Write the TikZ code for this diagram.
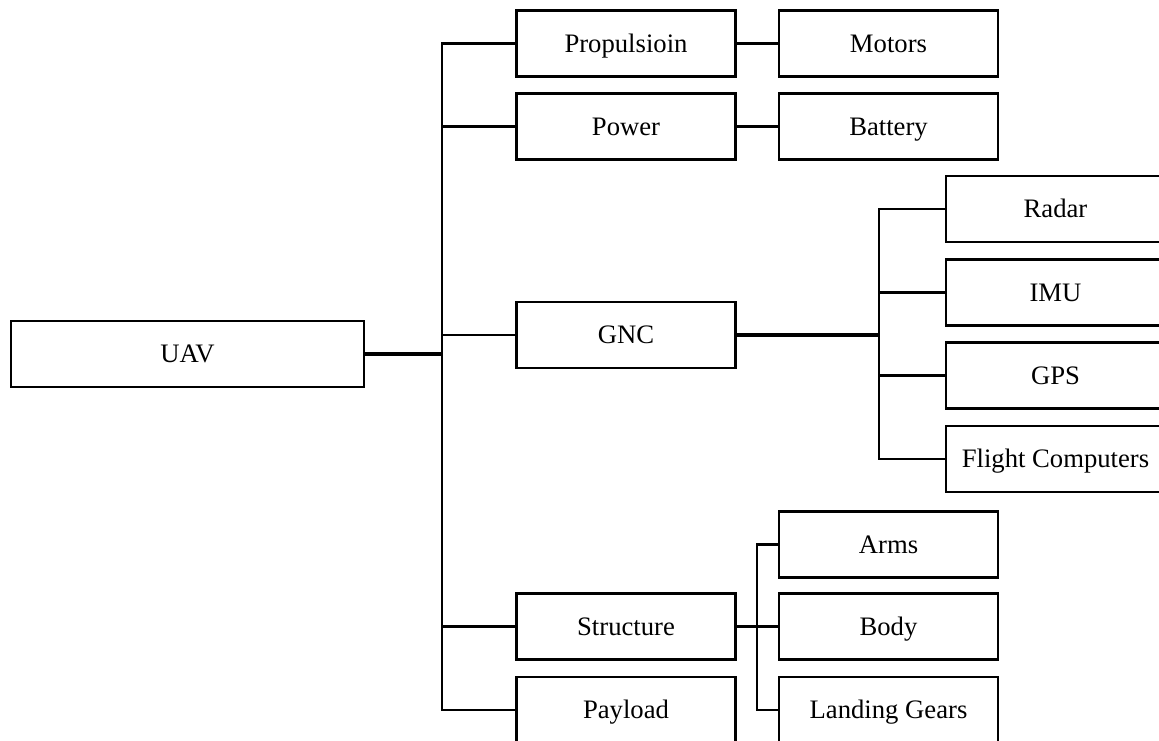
\documentclass[tikz,border=0pt]{standalone}
\usepackage{fontspec}
\setmainfont{Liberation Serif}
\begin{document}
\begin{tikzpicture}[x=0.75pt,y=-0.75pt,
  box/.style={draw=black,line width=2.1pt,fill=white,minimum width=164.25pt,minimum height=49.5pt,inner sep=0pt,text height=15.2pt,text depth=2pt,font=\fontsize{20pt}{24pt}\selectfont},
  conn/.style={draw=black,line width=1.7pt},
  thick conn/.style={draw=black,line width=2.3pt}]
\useasboundingbox (0,0) rectangle (1159,740);
\clip (0,0) rectangle (1159,740);
% nodes
\node[box,minimum width=264.75pt] (uav) at (187.5,354) {UAV};
\node[box] (prop) at (626,43.5) {Propulsioin};
\node[box] (power) at (626,126.5) {Power};
\node[box] (gnc) at (626,335) {GNC};
\node[box] (struct) at (626,626.5) {Structure};
\node[box] (payload) at (626,710) {Payload};
\node[box] (motors) at (888.5,43.5) {Motors};
\node[box] (battery) at (888.5,126.5) {Battery};
\node[box] (radar) at (1055.5,209) {Radar};
\node[box] (imu) at (1055.5,292.5) {IMU};
\node[box] (gps) at (1055.5,375.5) {GPS};
\node[box] (fc) at (1055.5,459) {Flight Computers};
\node[box] (arms) at (888.5,544.5) {Arms};
\node[box] (body) at (888.5,626.5) {Body};
\node[box] (gears) at (888.5,710) {Landing Gears};
% junctions
\coordinate (t) at (442,354);
\coordinate (g) at (879,335);
\coordinate (s) at (757,626.5);
% connectors
\draw[thick conn] (uav.east) -- (t);
\foreach \c in {prop,power,gnc,struct,payload} \draw[conn] (t) |- (\c.west);
\draw[conn] (prop.east) -- (motors.west);
\draw[conn] (power.east) -- (battery.west);
\draw[thick conn] (gnc.east) -- (g);
\foreach \c in {radar,imu,gps,fc} \draw[conn] (g) |- (\c.west);
\draw[thick conn] (struct.east) -- (s);
\foreach \c in {arms,body,gears} \draw[conn] (s) |- (\c.west);
\end{tikzpicture}
\end{document}
